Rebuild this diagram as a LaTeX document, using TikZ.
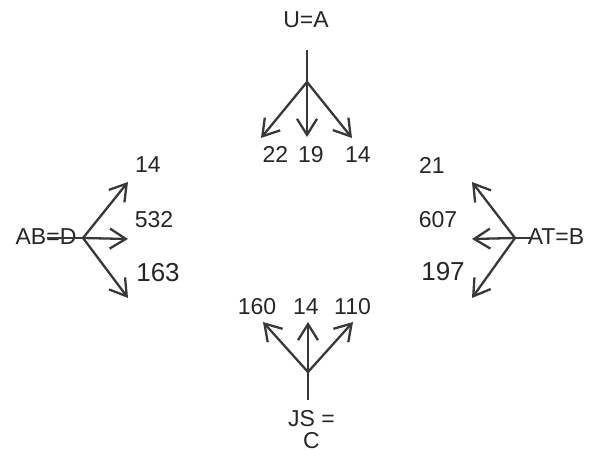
\documentclass[tikz,border=0pt]{standalone}
\usepackage{fontspec}
\setmainfont{Liberation Sans}
\usetikzlibrary{arrows.meta}
\begin{document}
\begin{tikzpicture}[x=1pt,y=-1pt,
  lbl/.style={font=\fontsize{23}{26}\selectfont, inner sep=0pt, text=black!85},
  biglbl/.style={font=\fontsize{26}{30}\selectfont, inner sep=0pt, text=black!85},
  stem/.style={draw=black!78, line width=2.3pt},
  arr/.style={stem, -{Straight Barb[length=16pt,width=20pt,line width=2.3pt]}}]
\useasboundingbox (0,0) rectangle (590,465);
% top group U=A
\node[lbl] (ua) at (306,20) {U=A};
\coordinate (uatop) at (307,50);
\coordinate (ja) at (307,82);
\coordinate (ta1) at (261,138);
\coordinate (ta2) at (307,137);
\coordinate (ta3) at (352,138);
\node[lbl] (a1) at (275.5,154.5) {22};
\node[lbl] (a2) at (311,154.5) {19};
\node[lbl] (a3) at (358,154.5) {14};
\draw[stem] (uatop) -- (ja);
\draw[arr] (ja) -- (ta1);
\draw[arr] (ja) -- (ta2);
\draw[arr] (ja) -- (ta3);
% left group AB=D
\node[lbl] (ab) at (46,237) {AB=D};
\coordinate (abl) at (47,238);
\coordinate (jd) at (83,238);
\coordinate (td1) at (128,182);
\coordinate (td2) at (128,239);
\coordinate (td3) at (128,298);
\node[lbl] (d1) at (148,165) {14};
\node[lbl] (d2) at (154,220) {532};
\node[biglbl] (d3) at (158,272.5) {163};
\draw[stem] (abl) -- (jd);
\draw[arr] (jd) -- (td1);
\draw[arr] (jd) -- (td2);
\draw[arr] (jd) -- (td3);
% right group AT=B
\node[lbl] (at) at (556,237) {AT=B};
\coordinate (atl) at (533,238);
\coordinate (jb) at (515,238);
\coordinate (tb1) at (472,182);
\coordinate (tb2) at (472,239);
\coordinate (tb3) at (472,298);
\node[lbl] (b1) at (432,165) {21};
\node[lbl] (b2) at (438,220) {607};
\node[biglbl] (b3) at (443,272) {197};
\draw[stem] (atl) -- (jb);
\draw[arr] (jb) -- (tb1);
\draw[arr] (jb) -- (tb2);
\draw[arr] (jb) -- (tb3);
% bottom group JS = C
\node[lbl, align=center, font=\fontsize{23}{22}\selectfont] (js) at (311.5,430) {JS =\\C};
\coordinate (jsbot) at (308,400);
\coordinate (jc) at (308,372);
\coordinate (tc1) at (263,322);
\coordinate (tc2) at (308,322);
\coordinate (tc3) at (353,322);
\node[lbl] (c1) at (257,307) {160};
\node[lbl] (c2) at (306,307) {14};
\node[lbl] (c3) at (352.5,307) {110};
\draw[stem] (jsbot) -- (jc);
\draw[arr] (jc) -- (tc1);
\draw[arr] (jc) -- (tc2);
\draw[arr] (jc) -- (tc3);
\end{tikzpicture}
\end{document}
